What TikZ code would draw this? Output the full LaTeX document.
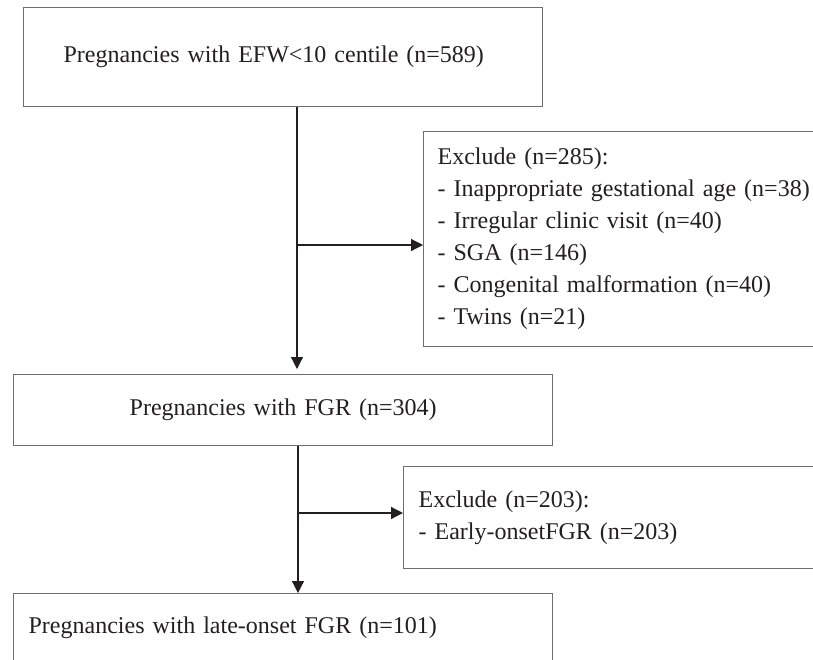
\documentclass[tikz,border=0pt]{standalone}
\usepackage{fontspec}
\setmainfont{Liberation Serif}[WordSpace=0.8]
\usetikzlibrary{arrows.meta}
\definecolor{inkdark}{HTML}{231F20}
\definecolor{framegray}{HTML}{6E6E6E}

\begin{document}
\begin{tikzpicture}[x=.5pt,y=-.5pt,>={Triangle[length=6pt,width=6pt]},
  box/.style={draw=framegray,line width=.65pt,text=inkdark,anchor=north west,
    font=\fontsize{12pt}{16pt}\selectfont,inner ysep=0pt,align=left},
  arr/.style={->,inkdark,line width=.6pt}]
 \clip (0,0) rectangle (813,659);
 \node[box,inner xsep=20pt,text width=219.5pt,minimum height=49.5pt] (all) at (23,7)
   {Pregnancies with EFW<10 centile (n=589)};
 \node[box,inner xsep=7pt,text width=189.5pt,minimum height=107.5pt] (excl) at (423,131)
   {Exclude (n=285):\\- Inappropriate gestational age (n=38)\\- Irregular clinic visit (n=40)\\
    - SGA (n=146)\\- Congenital malformation (n=40)\\- Twins (n=21)};
 \node[box,inner xsep=7pt,text width=255.5pt,minimum height=35.5pt,align=center] (fgr) at (13,374)
   {Pregnancies with FGR (n=304)};
 \node[box,inner xsep=7.5pt,text width=198.5pt,minimum height=51pt] (exclb) at (403,466)
   {Exclude (n=203):\\- Early-onsetFGR (n=203)};
 \node[box,inner xsep=7.5pt,text width=254.5pt,minimum height=34pt] (late) at (13,593)
   {Pregnancies with late-onset FGR (n=101)};
 % split points on the main line
 \coordinate (splita) at (297,245);
 \coordinate (splitb) at (298,513);
 \draw[arr,shorten >=2.5pt] (splita |- all.south) -- (splita |- fgr.north);
 \draw[arr] (splita) -- (splita -| excl.west);
 \draw[arr] (splitb |- fgr.south) -- (splitb |- late.north);
 \draw[arr] (splitb) -- (splitb -| exclb.west);
\end{tikzpicture}
\end{document}
